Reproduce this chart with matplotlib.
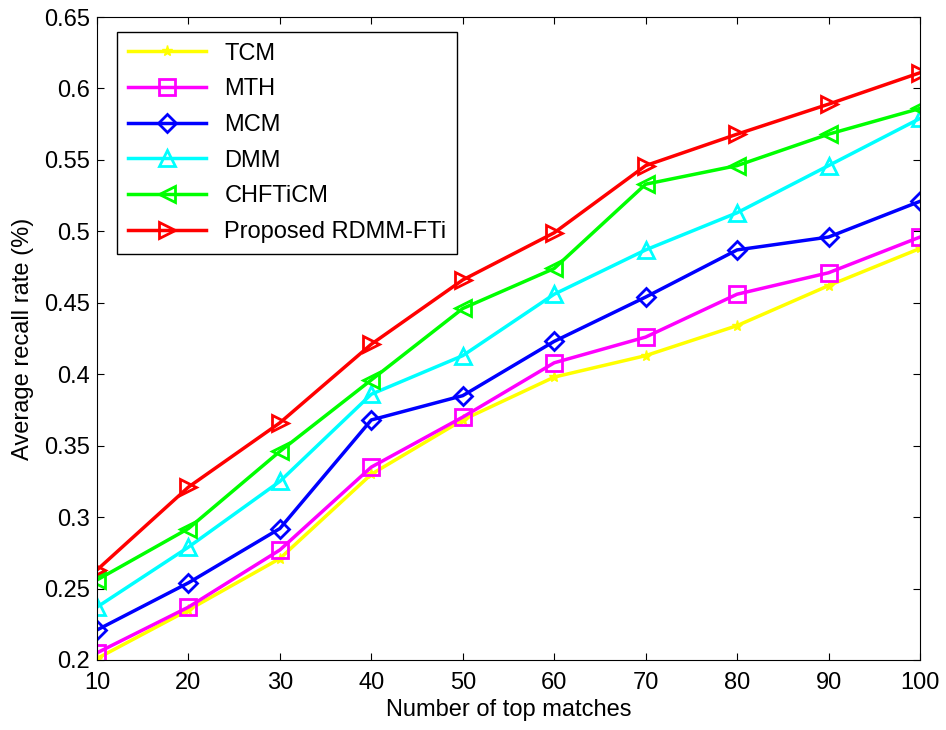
import matplotlib
matplotlib.use('Agg')
import matplotlib.pyplot as plt

plt.rcParams['font.family'] = ['Liberation Sans', 'DejaVu Sans']

# data
matches = [10, 20, 30, 40, 50, 60, 70, 80, 90, 100]
tcm = [0.201, 0.235, 0.271, 0.330, 0.368, 0.398, 0.413, 0.434, 0.462, 0.488]
mth = [0.205, 0.237, 0.277, 0.335, 0.370, 0.408, 0.426, 0.456, 0.471, 0.496]
mcm = [0.221, 0.254, 0.292, 0.368, 0.385, 0.423, 0.454, 0.487, 0.496, 0.521]
dmm = [0.237, 0.279, 0.325, 0.386, 0.413, 0.456, 0.487, 0.513, 0.546, 0.579]
chfticm = [0.256, 0.292, 0.346, 0.396, 0.446, 0.474, 0.533, 0.546, 0.568, 0.586]
proposed = [0.263, 0.321, 0.366, 0.421, 0.466, 0.499, 0.546, 0.568, 0.589, 0.611]

fig = plt.figure(figsize=(9.46, 7.3), dpi=100)
ax = fig.add_axes([0.1025, 0.0959, 0.87, 0.8808])

lw = 2.5
ms = 11
ax.plot(matches, tcm, color='yellow', marker='*', markersize=8, lw=lw, label='TCM')
ax.plot(matches, mth, color='magenta', marker='s', markersize=ms, mfc='none', mew=2, lw=lw, label='MTH')
ax.plot(matches, mcm, color='blue', marker='D', markersize=9, mfc='none', mew=2, lw=lw, label='MCM')
ax.plot(matches, dmm, color='cyan', marker='^', markersize=ms, mfc='none', mew=2, lw=lw, label='DMM')
ax.plot(matches, chfticm, color='#00ff00', marker='<', markersize=ms, mfc='none', mew=2, lw=lw, label='CHFTiCM')
ax.plot(matches, proposed, color='red', marker='>', markersize=ms, mfc='none', mew=2, lw=lw, label='Proposed RDMM-FTi')

ax.set_xlim(10, 100)
ax.set_ylim(0.2, 0.65)
ax.set_xticks(matches)
ax.set_yticks([0.2, 0.25, 0.3, 0.35, 0.4, 0.45, 0.5, 0.55, 0.6, 0.65])
ax.set_yticklabels(['0.2', '0.25', '0.3', '0.35', '0.4', '0.45', '0.5', '0.55', '0.6', '0.65'])
ax.tick_params(direction='in', labelsize=17, top=True, right=True, length=5)
ax.tick_params(axis='x', pad=9)
ax.tick_params(axis='y', pad=5)
ax.set_xlabel('Number of top matches', fontsize=17, labelpad=3)
ax.set_ylabel('Average recall rate (%)', fontsize=17, labelpad=7)

leg = ax.legend(loc='upper left', bbox_to_anchor=(0.0243, 0.9767), fontsize=17,
                fancybox=False, framealpha=1, edgecolor='black', borderaxespad=0,
                handlelength=3.3, borderpad=0.45, labelspacing=0.58)
leg.get_frame().set_linewidth(1)

fig.savefig('out.png', dpi=100)
